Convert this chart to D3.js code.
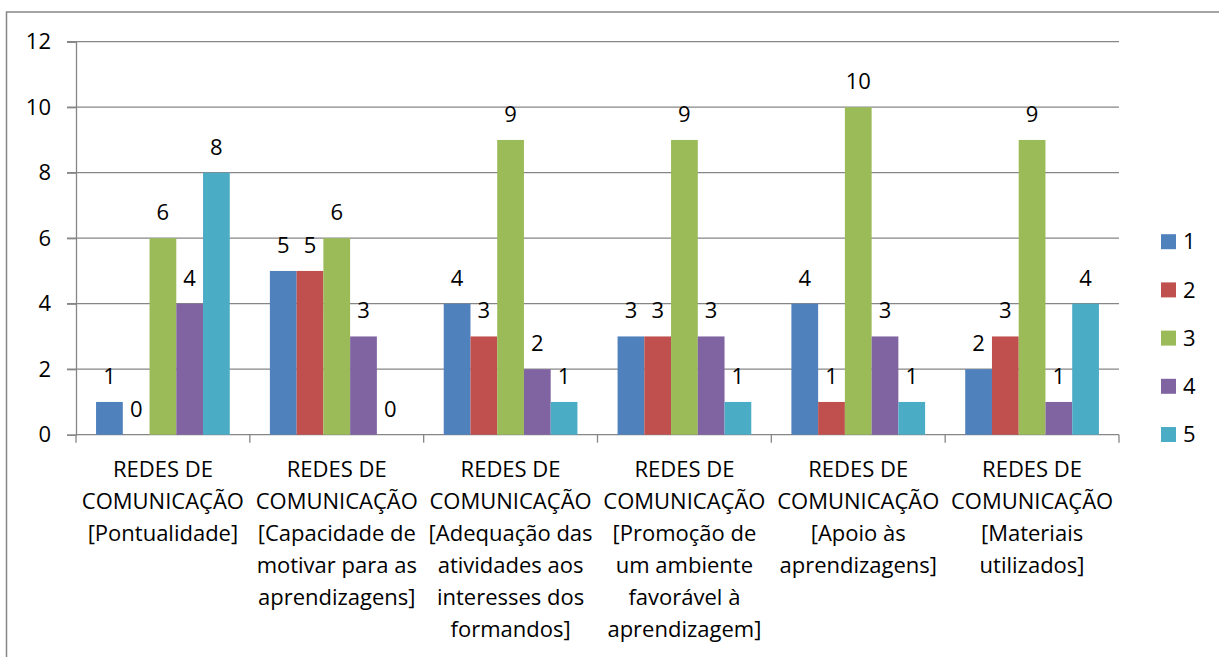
<!DOCTYPE html>
<html>
<head>
<meta charset="utf-8">
<script src="https://cdn.jsdelivr.net/npm/d3@7"></script>
<style>
  body { margin: 0; background: #fff; }
  text { font-family: "Open Sans", sans-serif; fill: #000; }
</style>
</head>
<body>
<div id="chart"></div>
<script>
// categories (multi-line labels as shown under the axis)
categories = [
  ["REDES DE", "COMUNICAÇÃO", "[Pontualidade]"],
  ["REDES DE", "COMUNICAÇÃO", "[Capacidade de", "motivar para as", "aprendizagens]"],
  ["REDES DE", "COMUNICAÇÃO", "[Adequação das", "atividades aos", "interesses dos", "formandos]"],
  ["REDES DE", "COMUNICAÇÃO", "[Promoção de", "um ambiente", "favorável à", "aprendizagem]"],
  ["REDES DE", "COMUNICAÇÃO", "[Apoio às", "aprendizagens]"],
  ["REDES DE", "COMUNICAÇÃO", "[Materiais", "utilizados]"]
];
seriesNames = ["1", "2", "3", "4", "5"];
serie1 = [1, 5, 4, 3, 4, 2];
serie2 = [0, 5, 3, 3, 1, 3];
serie3 = [6, 6, 9, 9, 10, 9];
serie4 = [4, 3, 2, 3, 3, 1];
serie5 = [8, 0, 1, 1, 1, 4];
yTicks = [0, 2, 4, 6, 8, 10, 12];

allSeries = [serie1, serie2, serie3, serie4, serie5];
colors = ["#4F81BD", "#C0504D", "#9BBB59", "#8064A2", "#4BACC6"];

width = 1219;
height = 657;
margin = ({top: 41.7, right: 100, bottom: 222, left: 76});
plotW = 1119 - margin.left;
plotH = 434.7 - margin.top;
fontSize = 22;

svg = d3.select("#chart").append("svg")
  .attr("width", width)
  .attr("height", height);

// outer chart border (only the top and left edges fall inside the picture)
svg.append("rect")
  .attr("x", 6.5)
  .attr("y", 12)
  .attr("width", 1300)
  .attr("height", 700)
  .style("fill", "none")
  .style("stroke", "#868686")
  .style("stroke-width", 1.5);

g = svg.append("g")
  .attr("transform", `translate(${margin.left}, ${margin.top})`);

catIdx = d3.range(categories.length);

x0 = d3.scaleBand()
  .domain(catIdx)
  .range([0, plotW])
  .paddingInner(0)
  .paddingOuter(0);

// Excel gap width 150%: 5 bars + 1.5 bar of gap per category
gap = x0.bandwidth() * 1.5 / 6.5;
x1 = d3.scaleBand()
  .domain(seriesNames)
  .range([gap / 2, x0.bandwidth() - gap / 2]);

y = d3.scaleLinear()
  .domain([0, 12])
  .range([plotH, 0]);

// gridlines
g.append("g")
  .selectAll("line")
  .data(yTicks.filter(d => d > 0))
  .join("line")
  .attr("x1", -9)
  .attr("x2", plotW)
  .attr("y1", d => y(d))
  .attr("y2", d => y(d))
  .style("stroke", "#868686")
  .style("stroke-width", 1.3);

// y axis
yAxis = g.append("g")
  .call(d3.axisLeft(y).tickValues(yTicks).tickSize(9).tickPadding(16));
yAxis.select(".domain").style("stroke", "#868686").style("stroke-width", 1.3);
yAxis.selectAll(".tick line").style("stroke", "#868686").style("stroke-width", 1.3);
yAxis.selectAll(".tick text")
  .style("font-size", fontSize + "px")
  .style("font-family", "'Open Sans', sans-serif")
  .attr("fill", "#000");

// x axis line + boundary ticks
g.append("line")
  .attr("x1", 0).attr("x2", plotW)
  .attr("y1", plotH).attr("y2", plotH)
  .style("stroke", "#868686").style("stroke-width", 1.3);
g.append("g")
  .selectAll("line")
  .data(d3.range(categories.length + 1))
  .join("line")
  .attr("x1", d => d < categories.length ? x0(d) : plotW)
  .attr("x2", d => d < categories.length ? x0(d) : plotW)
  .attr("y1", plotH)
  .attr("y2", plotH + 8)
  .style("stroke", "#868686").style("stroke-width", 1.3);

// bars
groups = g.selectAll(".cat")
  .data(catIdx)
  .join("g")
  .attr("class", "cat")
  .attr("transform", d => `translate(${x0(d)},0)`);

groups.selectAll("rect")
  .data(c => seriesNames.map((s, i) => ({s: s, i: i, v: allSeries[i][c]})))
  .join("rect")
  .attr("x", d => x1(d.s))
  .attr("y", d => y(d.v))
  .attr("width", x1.bandwidth())
  .attr("height", d => plotH - y(d.v))
  .style("fill", d => colors[d.i]);

// value labels
groups.selectAll("text.val")
  .data(c => seriesNames.map((s, i) => ({s: s, i: i, v: allSeries[i][c]})))
  .join("text")
  .attr("class", "val")
  .attr("x", d => x1(d.s) + x1.bandwidth() / 2)
  .attr("y", d => y(d.v) - 18)
  .attr("text-anchor", "middle")
  .style("font-size", fontSize + "px")
  .text(d => d.v);

// category labels
labels = g.selectAll(".catlabel")
  .data(catIdx)
  .join("text")
  .attr("class", "catlabel")
  .attr("text-anchor", "middle")
  .style("font-size", fontSize + "px");
labels.selectAll("tspan")
  .data(c => categories[c].map(t => ({c: c, t: t})))
  .join("tspan")
  .attr("x", d => x0(d.c) + x0.bandwidth() / 2)
  .attr("y", (d, i) => plotH + 42 + i * 32)
  .text(d => d.t);

// legend
legend = svg.append("g")
  .attr("transform", "translate(1161, 241.7)");
legend.selectAll("rect")
  .data(seriesNames)
  .join("rect")
  .attr("x", 0)
  .attr("y", (d, i) => i * 48.2 - 7.5)
  .attr("width", 15)
  .attr("height", 15)
  .style("fill", (d, i) => colors[i]);
legend.selectAll("text")
  .data(seriesNames)
  .join("text")
  .attr("x", 22)
  .attr("y", (d, i) => i * 48.2)
  .attr("dy", "0.35em")
  .style("font-size", fontSize + "px")
  .text(d => d);
</script>
</body>
</html>
